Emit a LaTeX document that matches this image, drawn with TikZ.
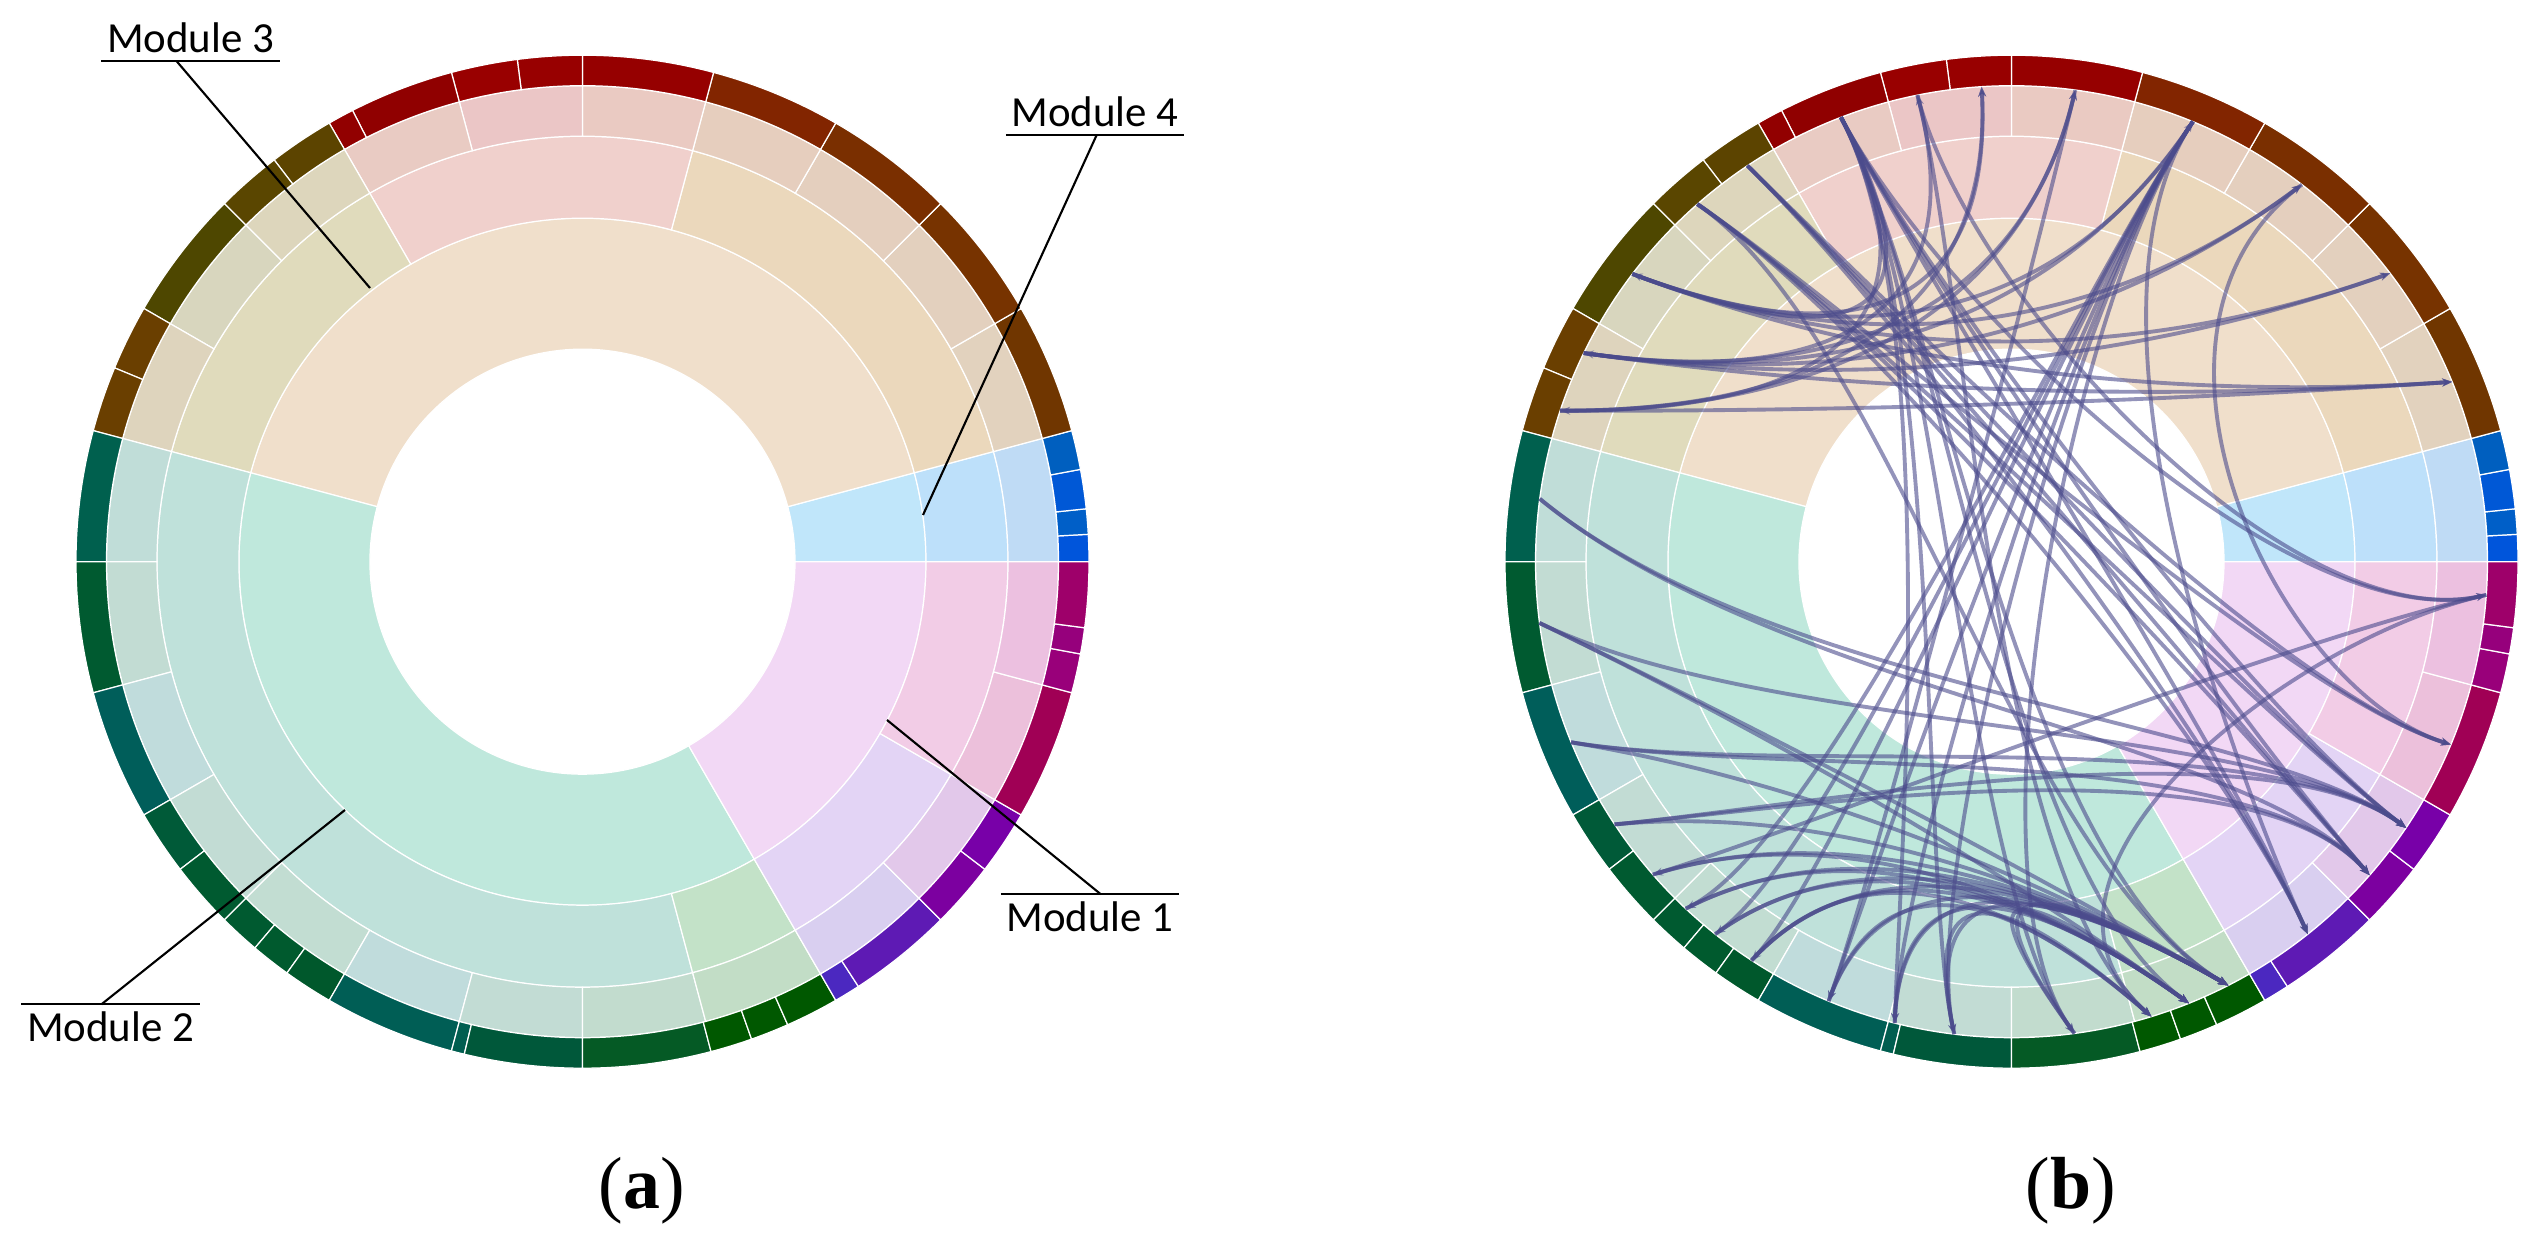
\documentclass[tikz,border=0pt]{standalone}
\usepackage{fontspec}
\usetikzlibrary{calc,arrows.meta}
\newfontfamily\modfont{Carlito}
\newfontfamily\capfont{Liberation Serif}

\definecolor{chordc}{HTML}{4B4B8C}

% one ring piece: angle from, angle to, inner r, outer r, colour
\newcommand{\ringpiece}[5]{%
  \definecolor{segc}{HTML}{#5}%
  \filldraw[fill=segc, draw=white, line width=0.35pt]
    (#1:#3) arc[start angle=#1, end angle=#2, radius=#3]
    -- (#2:#4) arc[start angle=#2, end angle=#1, radius=#4] -- cycle;}

% the four rings
\newcommand{\sunburst}{%
  \foreach \a/\b/\c in {0/15/C0E6FA, 15/165/F0DFCB, 165/300/BFE8DC, 300/360/F2D8F5}
    {\ringpiece{\a}{\b}{212.5}{343.5}{\c}}
  \foreach \a/\b/\c in {0/15/BDE0FA, 15/75/EBD8BC, 75/120/F0D0CC, 120/165/E0DBBC,
      165/285/BFE1DA, 285/300/C3E2C8, 300/330/E3D4F5, 330/360/F2CCE6}
    {\ringpiece{\a}{\b}{343.5}{425.5}{\c}}
  \foreach \a/\b/\c in {0/15/BFDBF5, 15/30/E2D2BE, 30/45/E3D0BE, 45/60/E4CFBE,
      60/75/E6CEBE, 75/90/EACAC2, 90/105/EBC6C6, 105/120/E9CBC3, 120/135/DDD6BC,
      135/150/D8D6BE, 150/165/DED4BD, 165/180/C0DDD8, 180/195/C2DCD3,
      195/210/C0DCDC, 210/225/C2DCD4, 225/240/C2DDD2, 240/255/C0DCDC,
      255/270/C2DCD4, 270/285/C2DCCE, 285/300/C2DDC6, 300/315/D9CFF0,
      315/330/E2C8EA, 330/345/ECC0DB, 345/360/ECC0E0}
    {\ringpiece{\a}{\b}{425.5}{476}{\c}}
  \foreach \a/\b/\c in {0/3.1/0055DB, 3.1/6/005FC8, 6/10.5/0058D6, 10.5/15/005FBF,
      15/30/703600, 30/45/773300, 45/60/7A2F00, 60/75/822500, 75/90/960000,
      90/97.4/980000, 97.4/105/990000, 105/117/900000, 117/120/920000,
      120/127.5/5C4400, 127.5/135/5A4600, 135/150/4E4700, 150/157.5/6A3F00,
      157.5/165/6A3F00, 165/180/00604E, 180/195/005A30, 195/210/005E5A,
      210/217.4/005A38, 217.4/225/005A30, 225/229.7/005A30, 229.7/234.3/005A2E,
      234.3/240/00582C, 240/255/005E55, 255/256.5/005E50, 256.5/270/00583A,
      270/284.7/055A25, 284.7/289.5/005800, 289.5/293.9/005800, 293.9/300/005800,
      300/303/4B28C0, 303/315/5E1AB4, 315/322.6/7C00A0, 322.6/330/7800A8,
      330/345/A00055, 345/349.5/99007A, 349.5/352.5/96007C, 352.5/360/9E006A}
    {\ringpiece{\a}{\b}{476}{506.5}{\c}}}

% edge: angle, module of it, angle, module of it
\newcommand{\chordedge}[4]{%
  \draw[chordline] (#1:476) .. controls ($(#1:476)!0.65!(h#2)$)
    and ($(#3:476)!0.65!(h#4)$) .. (#3:476);}

\begin{document}
\begin{tikzpicture}[x=0.1mm, y=0.1mm,
    modlabel/.style={font=\modfont\fontsize{12.2}{14}\selectfont, anchor=base,
      inner xsep=1.4pt, inner ysep=2pt},
    caplabel/.style={font=\capfont\fontsize{21}{25}\selectfont},
    leader/.style={line width=0.6pt, black},
    chordline/.style={draw=chordc, opacity=0.6, line width=1.1pt,
      -{Stealth[length=1mm, width=0.8mm]}}]
    \useasboundingbox (0,0) rectangle (2537,-1238);

    % (a)
    \begin{scope}[shift={(582.5,-561.7)}]
        \sunburst
    \end{scope}

    % (b)
    \begin{scope}[shift={(2011.5,-561.7)}]
        \sunburst
        % module hubs
        \coordinate (h1) at (330:200);
        \coordinate (h2) at (245:260);
        \coordinate (h3) at (95:150);
        \coordinate (h4) at (7.5:200);
        \foreach \s/\ms/\t/\mt in {111/3/326/1, 111/3/318.8/1, 111/3/308.5/1,
            123.7/3/326/1, 123.7/3/318.8/1, 131.3/3/326/1, 131.3/3/318.8/1,
            131.3/3/337.4/1, 101.4/3/356/1, 111/3/356/1, 123.7/3/308.5/1,
            131.3/3/297.1/2, 123.7/3/337.4/1, 131.3/3/308.5/1,
            142.8/3/37.3/3, 142.8/3/22.2/3, 142.8/3/52.4/3, 154/3/22.2/3,
            154/3/37.3/3, 161.5/3/22.2/3, 154/3/52.4/3, 142.8/3/67.6/3,
            161.5/3/82.3/3, 154/3/82.3/3, 161.5/3/93.6/3, 142.8/3/93.6/3,
            154/3/101.4/3, 67.6/3/154/3, 111/3/142.8/3, 111/3/161.5/3,
            67.6/3/236.9/2, 67.6/3/231.5/2, 67.6/3/247.4/2, 67.6/3/255.8/2,
            67.6/3/263.1/2, 82.3/3/247.4/2, 67.6/3/226.8/2, 67.6/3/277.6/2,
            111/3/263.1/2, 111/3/255.8/2, 111/3/277.6/2, 101.4/3/287.1/2,
            111/3/297.1/2, 111/3/291.9/2,
            172.4/2/326/1, 172.4/2/318.8/1, 187.4/2/326/1, 187.4/2/297.1/2,
            202.3/2/326/1, 202.3/2/318.8/1, 213.5/2/318.8/1, 213.5/2/297.1/2,
            221.1/2/291.9/2, 221.1/2/297.1/2, 226.8/2/297.1/2, 231.5/2/297.1/2,
            236.9/2/291.9/2, 236.9/2/287.1/2, 213.5/2/326/1, 202.3/2/297.1/2,
            187.4/2/291.9/2, 226.8/2/291.9/2, 231.5/2/291.9/2, 236.9/2/297.1/2,
            255.8/2/297.1/2, 255.8/2/291.9/2, 263.1/2/297.1/2, 263.1/2/287.1/2,
            277.6/2/297.1/2, 277.6/2/291.9/2, 247.4/2/287.1/2, 247.4/2/297.1/2,
            52.4/3/337.4/1, 356/1/221.1/2, 356/1/287.1/2, 67.6/3/308.5/1}
        {
            \chordedge{\s}{\ms}{\t}{\mt}
        };
    \end{scope}

    % labels of the modules
    \node[modlabel] (m3) at (190.5,-52.7) {Module 3};
    \node[modlabel] (m4) at (1095,-126.7) {Module 4};
    \node[modlabel] (m1) at (1090,-931.7) {Module 1};
    \node[modlabel] (m2) at (110.5,-1041.7) {Module 2};

    \coordinate (m3tip) at (370,-288);
    \coordinate (m4tip) at (923,-515);
    \coordinate (m1tip) at (887,-720);
    \coordinate (m2tip) at (345,-810);

    \draw[leader] (m3.south west) -- (m3.south east);
    \draw[leader] (m4.south west) -- (m4.south east);
    \draw[leader] (m1.north west) -- (m1.north east);
    \draw[leader] (m2.north west) -- (m2.north east);
    \draw[leader] ($(m3.south west)!0.42!(m3.south east)$) -- (m3tip);
    \draw[leader] ($(m4.south west)!0.51!(m4.south east)$) -- (m4tip);
    \draw[leader] ($(m1.north west)!0.56!(m1.north east)$) -- (m1tip);
    \draw[leader] ($(m2.north west)!0.45!(m2.north east)$) -- (m2tip);

    \node[caplabel] (capa) at (642,-1191) {(\textbf{a})};
    \node[caplabel] (capb) at (2071,-1191) {(\textbf{b})};
\end{tikzpicture}
\end{document}
